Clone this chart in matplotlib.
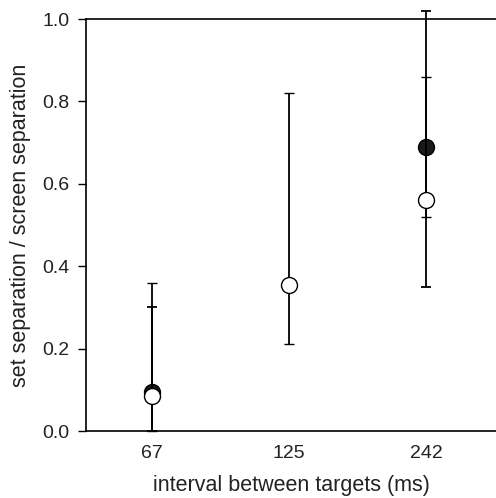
import matplotlib.pyplot as plt
import numpy as np

plt.rcParams['font.family'] = ['Liberation Sans', 'DejaVu Sans']

intervals = ["67", "125", "242"]

# open circles
open_y = [0.085, 0.355, 0.56]
open_lo = [0.0, 0.21, 0.52]
open_hi = [0.36, 0.82, 0.86]

# filled circles (no 125 ms point)
filled_x = [0, 2]
filled_y = [0.095, 0.69]
filled_lo = [0.0, 0.35]
filled_hi = [0.30, 1.02]

fig = plt.figure(figsize=(4.96, 4.98), dpi=100)
ax = fig.add_axes([0.1734, 0.1345, 0.8266, 0.8273])

xo = np.arange(len(intervals))
fy = np.array(filled_y)
ax.errorbar(filled_x, fy, yerr=[fy - np.array(filled_lo), np.array(filled_hi) - fy],
            fmt='o', color='black', ecolor='black', elinewidth=1.3, capsize=3.5,
            capthick=1.3, markersize=11.5, markerfacecolor='#1a1a1a',
            markeredgecolor='black', zorder=3, clip_on=False)

oy = np.array(open_y)
ax.errorbar(xo, oy, yerr=[oy - np.array(open_lo), np.array(open_hi) - oy],
            fmt='o', color='black', ecolor='black', elinewidth=1.3, capsize=3.5,
            capthick=1.3, markersize=11.5, markerfacecolor='white',
            markeredgecolor='black', markeredgewidth=1.0, zorder=4, clip_on=False)

ax.set_xlim(-0.48, 2.51)
ax.set_ylim(0, 1.0)
ax.set_xticks(xo)
ax.set_xticklabels(intervals)
ax.set_yticks([0.0, 0.2, 0.4, 0.6, 0.8, 1.0])
ax.set_yticklabels(["0.0", "0.2", "0.4", "0.6", "0.8", "1.0"])
ax.tick_params(axis='x', length=0, pad=10, labelsize=14, colors='#222222')
ax.tick_params(axis='y', direction='out', length=6, width=1.0, pad=6, labelsize=14,
               labelcolor='#222222')

ax.spines['right'].set_visible(False)
for s in ['left', 'top', 'bottom']:
    ax.spines[s].set_linewidth(1.2)

ax.set_xlabel("interval between targets (ms)", fontsize=15.5, labelpad=9.5, color='#222222')
ax.set_ylabel("set separation / screen separation", fontsize=15.5, labelpad=8, color='#222222')

fig.savefig("out.png", dpi=100)
